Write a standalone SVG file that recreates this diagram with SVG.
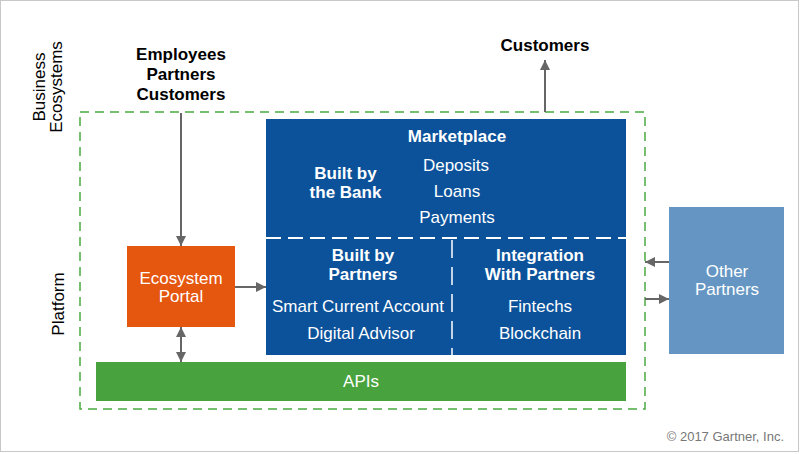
<svg xmlns="http://www.w3.org/2000/svg" width="800" height="454" viewBox="0 0 800 454">
<style>
text{font-family:"Liberation Sans",Arial,sans-serif;font-size:17px;text-anchor:middle}
.w{fill:#fff}
.b{font-weight:bold}
.k{fill:#000}
.conn{stroke:#666;stroke-width:2;fill:none}
</style>
<defs>
<marker id="ah" viewBox="0 0 10 10" refX="10" refY="5" markerWidth="10" markerHeight="10" markerUnits="userSpaceOnUse" orient="auto-start-reverse">
<path d="M0,0 L10,5 L0,10 Z" fill="#666"/>
</marker>
</defs>
<rect x="0.5" y="0.5" width="798" height="451" fill="#fff" stroke="#c8c8c8"/>
<g id="labels">
<text transform="translate(45,87) rotate(-90)" class="k">Business</text>
<text transform="translate(62,87) rotate(-90)" class="k">Ecosystems</text>
<text transform="translate(64,304) rotate(-90)" class="k">Platform</text>
<text x="181" y="60" class="k b">Employees</text>
<text x="181" y="80" class="k b">Partners</text>
<text x="181" y="100" class="k b">Customers</text>
<text x="545" y="51" class="k b">Customers</text>
<text x="784" y="441" style="font-size:13px;text-anchor:end;fill:#777">© 2017 Gartner, Inc.</text>
</g>
<g id="boundary">
<rect x="80" y="112" width="565" height="297" fill="none" stroke="#4aaa42" stroke-width="1.5" stroke-dasharray="9,6"/>
</g>
<g id="marketplace">
<rect x="266" y="119" width="360" height="236" fill="#0b529b"/>
<line x1="266" y1="238" x2="626" y2="238" stroke="#fff" stroke-width="2" stroke-dasharray="15,7"/>
<line x1="452" y1="240" x2="452" y2="355" stroke="#fff" stroke-width="1.5" stroke-dasharray="18,9"/>
<text x="457" y="142" class="w b">Marketplace</text>
<text x="456" y="170.5" class="w">Deposits</text>
<text x="457" y="197" class="w">Loans</text>
<text x="457" y="223" class="w">Payments</text>
<text x="345.5" y="179" class="w b">Built by</text>
<text x="345.5" y="197.5" class="w b">the Bank</text>
<text x="363" y="261" class="w b">Built by</text>
<text x="363" y="279.5" class="w b">Partners</text>
<text x="540" y="261" class="w b">Integration</text>
<text x="540" y="279.5" class="w b">With Partners</text>
<text x="358" y="311.5" class="w">Smart Current Account</text>
<text x="361" y="339" class="w">Digital Advisor</text>
<text x="540" y="311.5" class="w">Fintechs</text>
<text x="540" y="339" class="w">Blockchain</text>
</g>
<g id="portal">
<rect x="127" y="246" width="108" height="81" fill="#e5560f"/>
<text x="181" y="284" class="w">Ecosystem</text>
<text x="181" y="302" class="w">Portal</text>
</g>
<g id="apis">
<rect x="96" y="362" width="530" height="39" fill="#48a33f"/>
<text x="361" y="387" class="w">APIs</text>
</g>
<g id="other">
<rect x="669" y="207" width="115" height="147" fill="#6596c3"/>
<text x="727" y="277" class="w">Other</text>
<text x="727" y="295" class="w">Partners</text>
</g>
<g id="connectors">
<line class="conn" x1="181" y1="113" x2="181" y2="246" marker-end="url(#ah)"/>
<line class="conn" x1="235" y1="287" x2="266" y2="287" marker-end="url(#ah)"/>
<line class="conn" x1="181" y1="327" x2="181" y2="362" marker-start="url(#ah)" marker-end="url(#ah)"/>
<line class="conn" x1="545" y1="112" x2="545" y2="60" marker-end="url(#ah)"/>
<line class="conn" x1="669" y1="262" x2="645" y2="262" marker-end="url(#ah)"/>
<line class="conn" x1="645" y1="299" x2="669" y2="299" marker-end="url(#ah)"/>
</g>
</svg>
